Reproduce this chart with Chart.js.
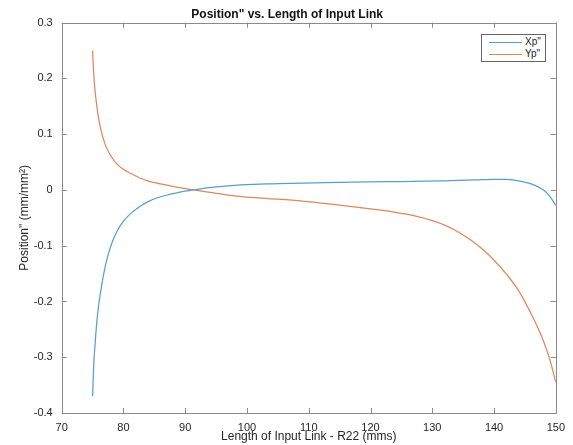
<!DOCTYPE html>
<html>
<head>
<meta charset="utf-8">
<script src="https://cdn.jsdelivr.net/npm/chart.js@4"></script>
<style>
  html, body { margin: 0; padding: 0; background: #fff; }
  #wrap { position: relative; width: 573px; height: 445px; }
  #legend { position: absolute; left: 481px; top: 34px; width: 63px; height: 26px;
    border: 1px solid #666; background: #fff; font-family: "Liberation Sans", Arial, sans-serif;
    font-size: 10px; color: #222; }
  .row { position: absolute; left: 0; height: 12px; line-height: 12px; }
  .sw { position: absolute; left: 7px; top: 6px; width: 33px; height: 0; border-top: 1px solid; }
  .lbl { position: absolute; left: 43px; top: 0; white-space: nowrap; }
</style>
</head>
<body>
<div id="wrap">
<canvas id="c" width="573" height="445"></canvas>
<div id="legend">
  <div class="row" style="top:1px"><span class="sw" style="border-color:#5a9ecc"></span><span class="lbl">Xp"</span></div>
  <div class="row" style="top:13px"><span class="sw" style="border-color:#de875f"></span><span class="lbl">Yp"</span></div>
</div>
</div>
<script>
const titleText = 'Position" vs. Length of Input Link';
const xTitle = 'Length of Input Link - R22 (mms)';
const yTitle = 'Position" (mm/mm\u00B2)';
const seriesNames = ['Xp"', 'Yp"'];

const xpX = [75, 75.1, 75.2, 75.35, 75.5, 75.7, 76.0, 76.4, 76.9, 77.5, 78.2, 79, 80, 81.2, 82.6, 84, 85.5, 87.5, 89.5, 91.3, 93, 95, 97, 99, 101, 104, 109, 115, 120, 125, 129, 133, 137, 140, 142, 144, 146, 148, 149, 150];
const xpY = [-0.37, -0.34, -0.31, -0.285, -0.262, -0.235, -0.205, -0.176, -0.145, -0.117, -0.093, -0.073, -0.056, -0.042, -0.030, -0.021, -0.014, -0.008, -0.003, 0.000, 0.003, 0.0055, 0.0075, 0.009, 0.010, 0.011, 0.0125, 0.0135, 0.0145, 0.015, 0.0157, 0.0168, 0.018, 0.019, 0.0188, 0.0165, 0.011, 0.000, -0.011, -0.028];

const ypX = [75, 75.1, 75.25, 75.4, 75.6, 75.85, 76.2, 76.6, 77.1, 77.8, 78.6, 79.5, 80.6, 82, 84, 86, 88, 91.3, 95, 98.2, 103, 109, 114, 120, 124, 127, 130, 132, 134, 136, 138, 140, 142, 144, 146, 147, 148, 149, 150];
const ypY = [0.25, 0.225, 0.198, 0.178, 0.158, 0.137, 0.116, 0.097, 0.080, 0.064, 0.051, 0.041, 0.033, 0.025, 0.016, 0.011, 0.0065, 0.000, -0.006, -0.011, -0.015, -0.020, -0.026, -0.034, -0.040, -0.046, -0.055, -0.063, -0.074, -0.088, -0.105, -0.126, -0.151, -0.181, -0.222, -0.245, -0.271, -0.303, -0.345];

const xMin = 70, xMax = 150, xStep = 10;
const yMin = -0.4, yMax = 0.3, yStep = 0.1;

const toPts = (xs, ys) => xs.map((x, i) => ({x: x, y: ys[i]}));

const boxPlugin = {
  id: 'matlabBox',
  afterDraw(chart) {
    const {ctx, chartArea: a, scales} = chart;
    ctx.save();
    ctx.strokeStyle = '#8a8a8a';
    ctx.lineWidth = 1;
    ctx.beginPath();
    const tl = 5;
    scales.x.ticks.forEach(t => {
      const px = Math.round(scales.x.getPixelForValue(t.value)) + 0.5;
      ctx.moveTo(px, a.bottom); ctx.lineTo(px, a.bottom - tl);
      ctx.moveTo(px, a.top); ctx.lineTo(px, a.top + tl);
    });
    scales.y.ticks.forEach(t => {
      const py = Math.round(scales.y.getPixelForValue(t.value)) + 0.5;
      ctx.moveTo(a.left, py); ctx.lineTo(a.left + tl, py);
      ctx.moveTo(a.right, py); ctx.lineTo(a.right - tl, py);
    });
    ctx.stroke();
    ctx.strokeRect(Math.round(a.left) + 0.5, Math.round(a.top) + 0.5, Math.round(a.right - a.left), Math.round(a.bottom - a.top));
    ctx.restore();
  }
};

const font = 'Liberation Sans, Arial, sans-serif';
Chart.defaults.font.family = font;
Chart.defaults.color = '#262626';

const fmt = v => Math.abs(v) < 1e-9 ? '0' : String(+(+v).toFixed(1));

new Chart(document.getElementById('c'), {
  type: 'line',
  data: {
    datasets: [
      { label: seriesNames[0], data: toPts(xpX, xpY), borderColor: '#5a9ecc', backgroundColor: '#5a9ecc', borderWidth: 1.25, pointRadius: 0, cubicInterpolationMode: 'monotone', fill: false },
      { label: seriesNames[1], data: toPts(ypX, ypY), borderColor: '#de875f', backgroundColor: '#de875f', borderWidth: 1.25, pointRadius: 0, cubicInterpolationMode: 'monotone', fill: false }
    ]
  },
  options: {
    responsive: false,
    animation: false,
    layout: { padding: { left: 17, right: 15.7, top: 0, bottom: 0 } },
    plugins: {
      legend: { display: false },
      tooltip: { enabled: false },
      title: { display: true, text: titleText, font: { size: 12, weight: 'bold', family: font }, color: '#111', padding: { top: 7, bottom: 1.3 } }
    },
    scales: {
      x: {
        type: 'linear', min: xMin, max: xMax,
        grid: { display: false, drawTicks: false }, border: { display: false },
        ticks: { stepSize: xStep, padding: 8, font: { size: 11 }, color: '#262626', maxRotation: 0, callback: fmt },
        title: { display: true, text: xTitle, font: { size: 12 }, color: '#262626', padding: { top: 0, bottom: 0.8 } },
        afterFit(s) { s.height = 32; }
      },
      y: {
        type: 'linear', min: yMin, max: yMax,
        grid: { display: false, drawTicks: false }, border: { display: false },
        ticks: { stepSize: yStep, padding: 9, font: { size: 11 }, color: '#262626', callback: fmt },
        title: { display: true, text: yTitle, font: { size: 12 }, color: '#262626', padding: { top: 0, bottom: 0 } },
        afterFit(s) { s.width = 44.7; }
      }
    }
  },
  plugins: [boxPlugin]
});
</script>
</body>
</html>
